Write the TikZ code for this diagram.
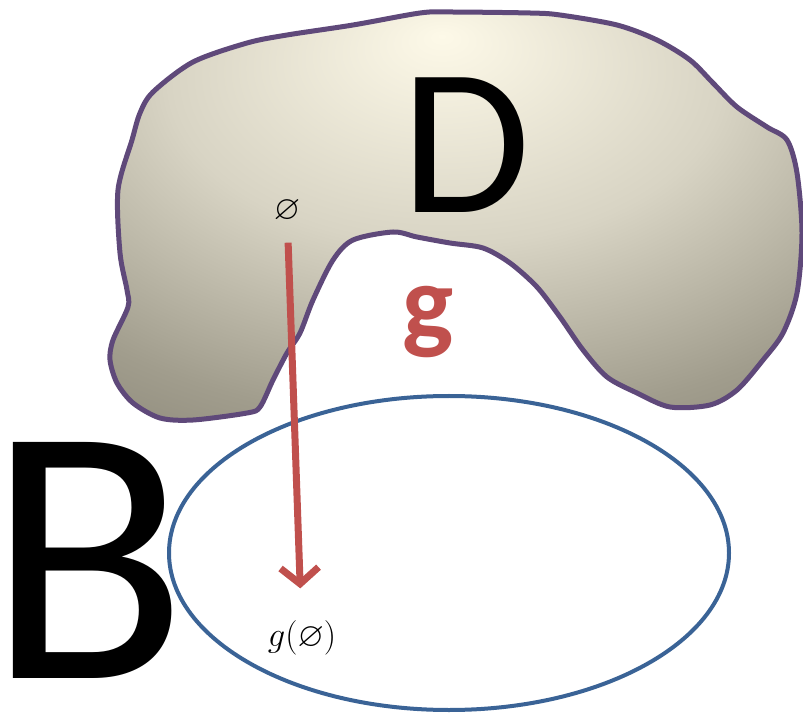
\documentclass[tikz,border=0pt]{standalone}
\usepackage{amssymb}
\usepackage{fontspec}
\newfontfamily\letterfont{Carlito}
\usetikzlibrary{arrows.meta}
\definecolor{blobline}{HTML}{5F497A}
\definecolor{mapred}{HTML}{C0504D}
\definecolor{setblue}{HTML}{3A6396}
\definecolor{blobin}{HTML}{FDF9E8}
\definecolor{blobmid}{HTML}{D8D4C4}
\definecolor{blobrim}{HTML}{A19D8D}
\definecolor{blobout}{HTML}{7E7A6C}
\pgfdeclareradialshading{blobshade}{\pgfpoint{-1bp}{22bp}}{color(0bp)=(blobin); color(20bp)=(blobmid); color(37bp)=(blobrim); color(52bp)=(blobout); color(80bp)=(blobout)}

\begin{document}
\begin{tikzpicture}[x=0.5pt, y=-0.5pt,
    bigletter/.style={inner sep=0pt, anchor=base, text=black},
    mathlabel/.style={inner sep=0pt, font=\fontsize{17}{19}\selectfont},
    mapto/.style={-{Straight Barb[length=8pt, width=19pt]}, line width=3.5pt,
                  draw=mapred, shorten <=10pt, shorten >=16pt},
]
\useasboundingbox (0,0) rectangle (803,716);
\path[draw=blobline, line width=2.5pt, line join=round, shading=blobshade]
  plot[smooth cycle, tension=0.5] coordinates {
  (118,190) (132,140) (140,113) (153,92) (193,62) (247,43) (287,35) (353,25)
  (420,13) (450,12) (530,13) (560,15) (617,25) (657,40) (690,60) (713,83)
  (737,107) (767,127) (787,140) (797,173) (802,233) (797,293) (783,333)
  (763,360) (737,390) (710,405) (670,407) (637,393) (607,377) (583,350)
  (560,317) (537,287) (510,263) (483,248) (450,243) (417,237) (393,232)
  (353,240) (333,260) (313,300) (300,333) (287,353) (273,380) (260,407)
  (247,413) (193,420) (160,418) (133,403) (117,383) (110,360) (113,340)
  (128,307) (127,290) (120,253)};
\draw[setblue, line width=2pt] (449,553) ellipse [x radius=280, y radius=157];
\node[bigletter, font=\letterfont\fontsize{105}{105}\selectfont] (dom) at (466,213) {D};
\node[bigletter, font=\letterfont\fontsize{184}{184}\selectfont] (cod) at (88,678) {B};
\node[bigletter, text=mapred, font=\letterfont\bfseries\fontsize{54}{54}\selectfont] (map) at (428,340) {g};
\node[mathlabel] (empty) at (287,211) {$\varnothing$};
\node[mathlabel] (gempty) at (302,638) {$g(\varnothing)$};
\draw[mapto] (empty) -- (gempty);
\end{tikzpicture}
\end{document}
